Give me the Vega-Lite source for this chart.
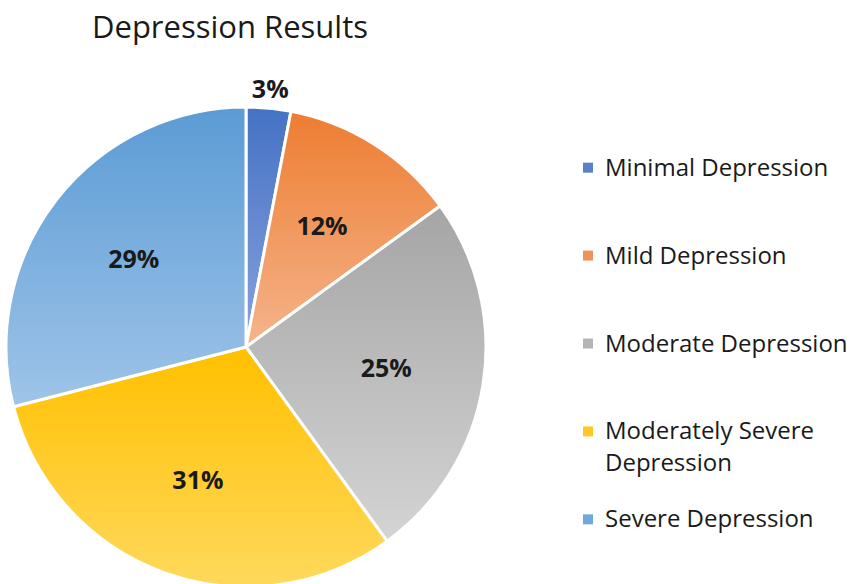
{
  "$schema": "https://vega.github.io/schema/vega-lite/v6.json",
  "padding": {"left": 0, "top": 13, "right": 0, "bottom": 0},
  "background": "white",
  "title": {
    "text": "Depression Results",
    "anchor": "start",
    "frame": "bounds",
    "dx": 92,
    "offset": 33,
    "font": "Open Sans",
    "fontSize": 31,
    "fontWeight": "normal",
    "color": "#1a1a1a"
  },
  "data": {
    "values": [
      {"category": "Minimal Depression", "value": 0.03},
      {"category": "Mild Depression", "value": 0.12},
      {"category": "Moderate Depression", "value": 0.25},
      {"category": "Moderately Severe Depression", "value": 0.31},
      {"category": "Severe Depression", "value": 0.29}
    ]
  },
  "spacing": 91,
  "hconcat": [
    {
      "width": 480,
      "height": 480,
      "transform": [
        {"stack": "value", "groupby": [], "as": ["v0", "v1"]},
        {"calculate": "(datum.v0 + datum.v1) / 2", "as": "mid"}
      ],
      "encoding": {
        "theta": {"field": "v0", "type": "quantitative", "scale": {"domain": [0, 1]}},
        "theta2": {"field": "v1"}
      },
      "layer": [
        {
          "transform": [{"filter": "datum.category == 'Minimal Depression'"}],
          "mark": {"type": "arc", "radius": 240, "stroke": "white", "strokeWidth": 3,
            "fill": {"gradient": "linear", "x1": 0, "y1": 0, "x2": 0, "y2": 1,
              "stops": [{"offset": 0, "color": "#4472c4"}, {"offset": 1, "color": "#8aa2df"}]}}
        },
        {
          "transform": [{"filter": "datum.category == 'Mild Depression'"}],
          "mark": {"type": "arc", "radius": 240, "stroke": "white", "strokeWidth": 3,
            "fill": {"gradient": "linear", "x1": 0, "y1": 0, "x2": 0, "y2": 1,
              "stops": [{"offset": 0, "color": "#ed7d31"}, {"offset": 1, "color": "#f5b48c"}]}}
        },
        {
          "transform": [{"filter": "datum.category == 'Moderate Depression'"}],
          "mark": {"type": "arc", "radius": 240, "stroke": "white", "strokeWidth": 3,
            "fill": {"gradient": "linear", "x1": 0, "y1": 0, "x2": 0, "y2": 1,
              "stops": [{"offset": 0, "color": "#a5a5a5"}, {"offset": 1, "color": "#d4d4d4"}]}}
        },
        {
          "transform": [{"filter": "datum.category == 'Moderately Severe Depression'"}],
          "mark": {"type": "arc", "radius": 240, "stroke": "white", "strokeWidth": 3,
            "fill": {"gradient": "linear", "x1": 0, "y1": 0, "x2": 0, "y2": 1,
              "stops": [{"offset": 0, "color": "#ffc000"}, {"offset": 1, "color": "#ffd95c"}]}}
        },
        {
          "transform": [{"filter": "datum.category == 'Severe Depression'"}],
          "mark": {"type": "arc", "radius": 240, "stroke": "white", "strokeWidth": 3,
            "fill": {"gradient": "linear", "x1": 0, "y1": 0, "x2": 0, "y2": 1,
              "stops": [{"offset": 0, "color": "#5b9bd5"}, {"offset": 1, "color": "#9fc4e8"}]}}
        },
        {
          "transform": [{"filter": "datum.value >= 0.05"}],
          "mark": {"type": "text", "radius": 142, "font": "Open Sans", "fontSize": 25, "fontWeight": "bold", "color": "#1a1a1a"},
          "encoding": {
            "theta": {"field": "mid", "type": "quantitative", "scale": {"domain": [0, 1]}},
            "theta2": null,
            "text": {"field": "value", "type": "quantitative", "format": ".0%"}
          }
        },
        {
          "transform": [{"filter": "datum.value < 0.05"}],
          "mark": {"type": "text", "radius": 258, "font": "Open Sans", "fontSize": 25, "fontWeight": "bold", "color": "#1a1a1a"},
          "encoding": {
            "theta": {"field": "mid", "type": "quantitative", "scale": {"domain": [0, 1]}},
            "theta2": null,
            "text": {"field": "value", "type": "quantitative", "format": ".0%"}
          }
        }
      ]
    },
    {
      "width": 240,
      "height": 473,
      "transform": [
        {"calculate": "datum.category == 'Moderately Severe Depression' ? 'Moderately Severe\\nDepression' : datum.category", "as": "legendText"}
      ],
      "encoding": {
        "y": {"field": "category", "type": "nominal", "sort": null, "axis": null,
          "scale": {"type": "point", "padding": 0.69}},
        "x": {"datum": 0, "type": "quantitative", "axis": null, "scale": {"domain": [0, 1]}}
      },
      "layer": [
        {
          "mark": {"type": "point", "shape": "square", "size": 100, "filled": true, "opacity": 1},
          "encoding": {
            "color": {
              "field": "category",
              "type": "nominal",
              "legend": null,
              "scale": {
                "domain": ["Minimal Depression", "Mild Depression", "Moderate Depression", "Moderately Severe Depression", "Severe Depression"],
                "range": ["#5a80cc", "#ef9358", "#b4b4b4", "#ffc824", "#6ea8dc"]
              }
            }
          }
        },
        {
          "mark": {"type": "text", "align": "left", "baseline": "alphabetic", "dx": 17, "dy": 8,
            "lineBreak": "\n", "lineHeight": 32, "font": "Open Sans", "fontSize": 24, "color": "#1a1a1a"},
          "encoding": {
            "text": {"field": "legendText", "type": "nominal"}
          }
        }
      ]
    }
  ],
  "config": {
    "view": {"stroke": null}
  }
}
